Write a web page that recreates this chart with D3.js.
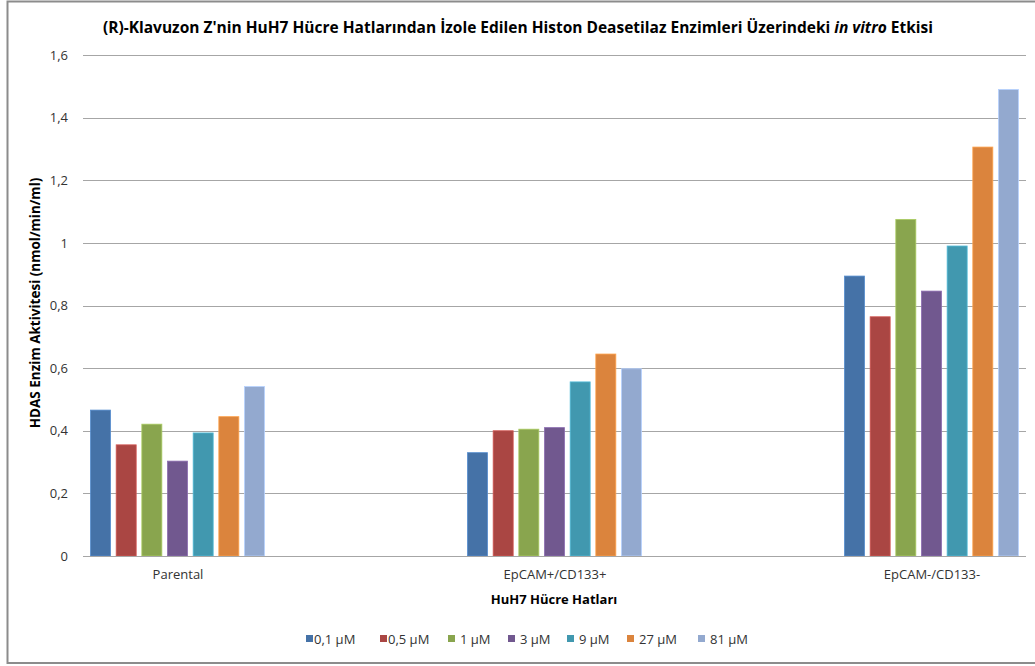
<!DOCTYPE html>
<html><head><meta charset="utf-8">
<script src="https://cdn.jsdelivr.net/npm/d3@7"></script>
<style>body{margin:0;background:#fff;} svg{display:block;font-family:"Open Sans","Noto Sans",sans-serif;}</style>
</head><body>
<svg id="c" width="1035" height="666"></svg>
<script>
const categories = ["Parental", "EpCAM+/CD133+", "EpCAM-/CD133-"];
const seriesNames = ["0,1 µM", "0,5 µM", "1 µM", "3 µM", "9 µM", "27 µM", "81 µM"];
const s01 = [0.466, 0.330, 0.894];
const s05 = [0.355, 0.400, 0.764];
const s1  = [0.421, 0.405, 1.075];
const s3  = [0.303, 0.410, 0.846];
const s9  = [0.393, 0.556, 0.990];
const s27 = [0.445, 0.645, 1.306];
const s81 = [0.541, 0.598, 1.490];
const yTicks = [0, 0.2, 0.4, 0.6, 0.8, 1, 1.2, 1.4, 1.6];
const colors = ["#4572A7", "#AA4643", "#89A54E", "#71588F", "#4198AF", "#DB843D", "#93A9CF"];
const series = [s01, s05, s1, s3, s9, s27, s81];

const svg = d3.select("#c");
// outer border
svg.append("rect").attr("x", 7.5).attr("y", 1.5).attr("width", 1040).attr("height", 661.5)
  .attr("fill", "none").attr("stroke", "#8c8c8c").attr("stroke-width", 2);

const L = 83, R = 1026, T = 55, B = 556;
const y = d3.scaleLinear().domain([0, 1.6]).range([B, T]);
const x = d3.scalePoint().domain(categories).range([L, R]).padding(0.2507);
const xi = d3.scaleBand().domain(d3.range(series.length)).range([-87, 87]).paddingInner(0.22);

// gridlines
svg.append("g").selectAll("line").data(yTicks).join("line")
  .attr("x1", L).attr("x2", R).attr("y1", d => Math.round(y(d)) + 0.5).attr("y2", d => Math.round(y(d)) + 0.5)
  .attr("stroke", "#a6a6a6").attr("stroke-width", 1);

// y axis labels
const fmt = d => d === 0 ? "0" : (d === 1 ? "1" : d3.format(".1f")(d).replace(".", ","));
const yAxis = d3.axisLeft(y).tickValues(yTicks).tickFormat(fmt).tickSize(0).tickPadding(15);
const gy = svg.append("g").attr("transform", `translate(${L},0)`).call(yAxis);
gy.select(".domain").remove();
gy.selectAll("text").attr("font-size", 13).attr("fill", "#333").attr("font-family", "Open Sans");

// bars
const gBars = svg.append("g");
series.forEach((s, si) => {
  gBars.append("g").selectAll("rect").data(s).join("rect")
    .attr("x", (d, i) => x(categories[i]) + xi(si))
    .attr("width", xi.bandwidth())
    .attr("y", d => y(d))
    .attr("height", d => y(0) - y(d))
    .attr("fill", colors[si])
    .attr("stroke", d3.color(colors[si]).brighter(0.6))
    .attr("stroke-width", 0.8);
});

// x axis
const xAxis = d3.axisBottom(x).tickSize(0).tickPadding(14);
const gx = svg.append("g").attr("transform", `translate(0,${B})`).call(xAxis);
gx.select(".domain").attr("stroke", "#a6a6a6").attr("d", `M${L},0.5H${R}`);
gx.selectAll("text").attr("font-size", 13).attr("fill", "#333").attr("font-family", "Open Sans");

// titles
svg.append("text").attr("x", 518).attr("y", 33).attr("text-anchor", "middle")
  .attr("font-size", 15.5).attr("font-weight", "bold").attr("fill", "#000")
  .call(t => {
    t.append("tspan").text("(R)-Klavuzon Z'nin HuH7 Hücre Hatlarından İzole Edilen Histon Deasetilaz Enzimleri Üzerindeki ");
    t.append("tspan").attr("font-style", "italic").text("in vitro");
    t.append("tspan").text(" Etkisi");
  });
svg.append("text").attr("x", 554).attr("y", 604).attr("text-anchor", "middle")
  .attr("font-size", 13).attr("font-weight", "bold").text("HuH7 Hücre Hatları");
svg.append("text").attr("transform", "translate(40,303) rotate(-90)").attr("text-anchor", "middle")
  .attr("font-size", 13.5).attr("font-weight", "bold").text("HDAS Enzim Aktivitesi (nmol/min/ml)");

// legend
const legX = [306, 380, 448, 508, 567, 627, 698];
const leg = svg.append("g");
seriesNames.forEach((n, i) => {
  leg.append("rect").attr("x", legX[i]).attr("y", 635).attr("width", 7).attr("height", 7).attr("fill", colors[i]);
  leg.append("text").attr("x", legX[i] + (i < 2 ? 8 : 12)).attr("y", 643.5).attr("font-size", 13).attr("fill", "#333").text(n);
});
</script>
</body></html>
